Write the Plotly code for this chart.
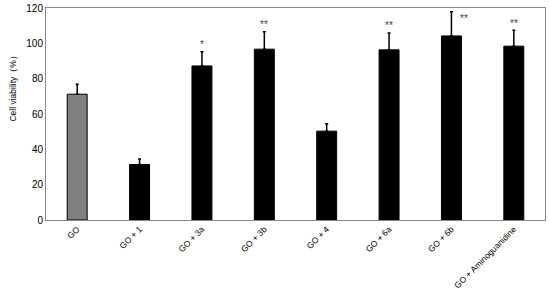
import plotly.graph_objects as go

groups = ["GO", "GO + 1", "GO + 3a", "GO + 3b", "GO + 4", "GO + 6a", "GO + 6b", "GO + Aminoguanidine"]
viability = [71.2, 31.4, 87.2, 96.7, 50.3, 96.3, 104.2, 98.4]
sd = [5.6, 3.1, 8.0, 9.9, 4.2, 9.6, 13.7, 9.0]
stars = ["", "", "*", "**", "", "**", "**", "**"]
bar_colors = ["#808080", "#000000", "#000000", "#000000", "#000000", "#000000", "#000000", "#000000"]

fig = go.Figure()

fig.add_trace(go.Bar(
    x=groups, y=viability,
    marker=dict(color=bar_colors, line=dict(color="#000000", width=1)),
    width=0.32,
    error_y=dict(type="data", array=sd, arrayminus=[0] * len(sd), symmetric=False,
                 color="#000000", thickness=1.5, width=1.5),
))

# significance marks sit just above each error bar
for g, v, e, s in zip(groups, viability, sd, stars):
    if not s:
        continue
    if g == "GO + 6b":
        fig.add_annotation(x=g, y=v + e - 4, text=s, showarrow=False, xshift=13,
                           font=dict(size=10, color="#444444"))
    else:
        fig.add_annotation(x=g, y=v + e + 4, text=s, showarrow=False,
                           font=dict(size=10, color="#444444"))

# y title sits above the middle of the axis in the original
fig.add_annotation(text="Cell viability（%）", xref="paper", yref="paper",
                   x=-0.08, y=0.63, textangle=-90, showarrow=False,
                   font=dict(size=8.5))

fig.update_layout(
    width=550, height=303,
    margin=dict(l=46, r=5, t=8, b=83),
    plot_bgcolor="white", paper_bgcolor="white",
    font=dict(family="Liberation Sans, Arial", size=10, color="#000000"),
    showlegend=False,
)
fig.update_xaxes(
    tickangle=-45, showline=True, linecolor="#888888", linewidth=1, mirror=True,
    ticks="", tickfont=dict(size=8.5), automargin=False,
)
fig.update_yaxes(
    range=[0, 120], dtick=20, showgrid=False, zeroline=False,
    showline=True, linecolor="#888888", linewidth=1, mirror=True, ticks="",
    tickfont=dict(size=10), automargin=False,
)

# drop the default page margin so the figure fills the window
fig.write_html("out.html", config={"displayModeBar": False},
               post_script="document.body.style.margin='0';")
